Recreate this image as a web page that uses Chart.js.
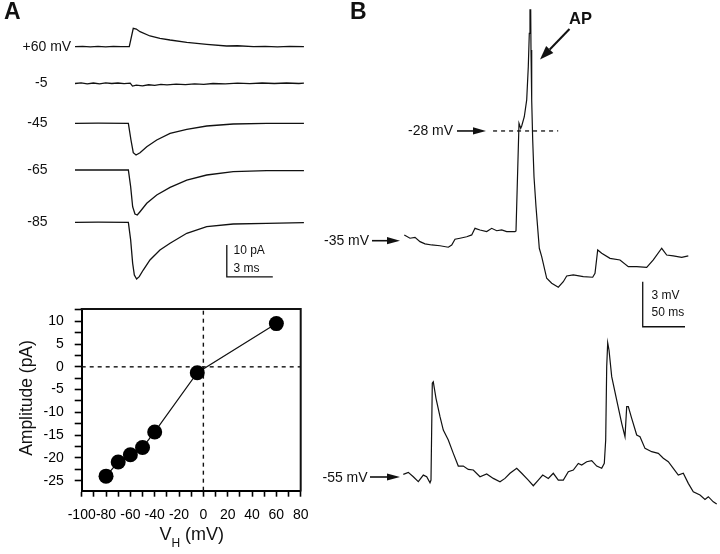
<!DOCTYPE html>
<html>
<head>
<meta charset="utf-8">
<script src="https://cdn.jsdelivr.net/npm/chart.js@4.4.0/dist/chart.umd.min.js"></script>
<style>
html, body { margin: 0; padding: 0; background: #fff; }
#wrap { position: relative; width: 720px; height: 554px; }
#wrap canvas { position: absolute; left: 0; top: 0; }
</style>
</head>
<body>
<div id="wrap">
<canvas id="chartTraces" width="720" height="554"></canvas>
<canvas id="chartIV" width="720" height="554"></canvas>
<canvas id="chartB" width="720" height="554"></canvas>
</div>
<script>
// -- DATA ---------------//
// Panel A: synaptic currents at each holding potential (time in ms, current in pA from baseline)
const traceLabels = ['+60 mV', '-5', '-45', '-65', '-85'];
const traceOffset = [-8.34, -19.84, -32.28, -46.88, -63.22]; // stacking of the traces, pA

const traceT60 = [0, 0.5, 1.0, 1.5, 2.0, 2.5, 3.0, 3.54, 3.80, 4.0, 4.24, 4.89, 5.54, 6.20, 7.29, 8.59, 9.89, 10.6, 11.63, 12.4, 13.2, 14.0, 14.93];
const traceI60 = [0, 0.12, -0.05, 0.1, -0.08, 0.12, 0, 0, 5.75, 5.5, 4.69, 3.34, 2.63, 2.09, 1.38, 0.75, 0.22, 0.3, 0, 0.1, -0.05, 0.1, 0];

const traceT5 = [0, 0.4, 0.8, 1.2, 1.6, 2.0, 2.4, 2.8, 3.2, 3.6, 3.75, 4.0, 4.4, 4.8, 5.2, 5.6, 6.0, 6.6, 7.2, 7.8, 8.4, 9.0, 9.8, 10.6, 11.4, 12.2, 13.0, 13.8, 14.6, 14.93];
const traceI5 = [0, 0.2, -0.1, 0.15, -0.1, 0.2, 0, 0.15, -0.05, 0.1, -0.8, -0.5, -0.75, -0.4, -0.6, -0.3, -0.45, -0.2, -0.35, -0.1, -0.25, 0, -0.15, 0.1, -0.05, 0.15, 0, 0.15, 0, 0.1];

const traceT45 = [0, 1.5, 3.48, 3.65, 3.80, 3.98, 4.24, 4.68, 5.33, 6.20, 7.29, 8.59, 10.32, 12.50, 14.93];
const traceI45 = [0, 0.05, 0, -5.22, -9.19, -9.91, -9.19, -7.31, -5.22, -3.13, -1.88, -0.84, -0.22, 0, 0];

const traceT65 = [0, 1.5, 3.48, 3.63, 3.76, 3.91, 4.06, 4.24, 4.68, 5.33, 6.20, 7.29, 8.59, 10.32, 12.50, 14.93];
const traceI65 = [0, 0, 0, -5.22, -11.47, -13.75, -14.06, -13.03, -10.41, -7.81, -5.41, -3.13, -1.56, -0.53, -0.22, -0.16];

const traceT85 = [0, 1.5, 3.48, 3.63, 3.76, 3.87, 4.02, 4.19, 4.45, 4.89, 5.54, 6.20, 7.29, 8.59, 10.32, 12.50, 14.93];
const traceI85 = [0, 0.05, 0, -5.53, -12.81, -16.47, -17.72, -17.0, -14.91, -11.78, -8.66, -6.56, -3.44, -1.38, -0.53, -0.31, -0.13];

const traceT = [traceT60, traceT5, traceT45, traceT65, traceT85];
const traceI = [traceI60, traceI5, traceI45, traceI65, traceI85];

const scaleBarA = { t0: 9.9, i0: -80.3, dt: 3, di: 10 }; // 3 ms, 10 pA

// Panel A (bottom): I-V relation
const ivV = [-80, -70, -60, -50, -40, -5, 60];
const ivI = [-24.0, -20.9, -19.3, -17.7, -14.3, -1.3, 9.5];

// Panel B: membrane potential recordings (time in ms, mV)
const topT = [5.08, 11.82, 17.73, 23.64, 29.55, 37.47, 47.28, 57.09, 61.11, 65.01, 70.92, 78.84, 84.75, 88.65, 94.56, 102.48, 108.39, 114.3, 120.21, 126.12, 135.93, 137.12, 140.66, 142.67, 143.85, 146.93, 149.76, 151.65, 152.84, 153.66, 154.49, 154.85, 155.67, 156.86, 158.39, 160.76, 164.66, 167.49, 173.4, 179.31, 187.12, 193.03, 197.04, 204.85, 216.67, 227.78, 230.5, 233.69, 238.42, 248.23, 260.05, 269.86, 279.79, 291.61, 299.41, 309.34, 315.25, 323.05, 332.98, 340.78];
const topV = [-34.93, -35.15, -35.09, -35.38, -35.53, -35.6, -35.65, -35.75, -35.6, -35.22, -35.15, -35.05, -34.93, -34.49, -34.6, -34.71, -34.49, -34.65, -34.6, -34.71, -34.71, -34.67, -27.49, -27.82, -27.67, -27.05, -25.93, -23.71, -21.49, -19.93, -19.93, -22.6, -25.93, -28.6, -31.05, -33.05, -35.82, -36.38, -37.82, -38.15, -38.42, -38.05, -37.67, -37.6, -37.71, -37.75, -37.49, -35.93, -36.15, -36.49, -36.6, -37.05, -37.05, -37.09, -36.6, -35.82, -36.27, -36.33, -36.42, -36.33];

const botT = [3.9, 9.81, 15.72, 21.63, 27.54, 31.56, 35.46, 36.64, 38.18, 39.36, 42.55, 47.28, 51.18, 57.09, 63.0, 68.91, 74.82, 80.73, 86.64, 94.56, 102.48, 110.28, 118.2, 124.11, 130.02, 137.94, 143.85, 151.65, 157.57, 163.48, 168.68, 175.3, 181.21, 187.12, 193.03, 198.94, 204.85, 210.76, 214.78, 220.69, 226.6, 232.51, 238.42, 241.49, 243.14, 244.33, 245.51, 247.04, 250.24, 256.15, 262.06, 265.96, 267.97, 269.86, 273.88, 279.79, 283.69, 289.6, 297.52, 305.32, 311.23, 317.14, 323.05, 328.96, 334.87, 340.78, 346.69, 354.61, 360.52, 364.42, 370.33, 374.35];
const botV = [-54.82, -54.69, -54.98, -55.31, -54.87, -54.98, -55.38, -55.2, -48.75, -48.65, -49.75, -50.98, -51.87, -52.53, -53.42, -54.27, -54.27, -54.49, -54.53, -54.98, -54.8, -55.09, -55.31, -55.09, -54.75, -54.42, -54.75, -55.2, -55.58, -55.2, -54.87, -55.09, -54.75, -55.2, -55.2, -54.65, -54.53, -54.09, -54.2, -53.98, -53.91, -54.27, -54.42, -54.09, -52.53, -47.65, -46.05, -46.53, -48.31, -49.87, -51.42, -52.31, -50.31, -50.31, -51.09, -52.2, -52.31, -53.09, -53.31, -53.42, -53.75, -53.98, -54.42, -54.87, -54.75, -55.42, -55.98, -56.2, -56.49, -56.31, -56.65, -56.8];

const thresholdMv = -28;
const thresholdSpan = [110, 187]; // ms
const scaleBarB = { t0: 286.9, v0: -41.05, dt: 50, dv: 3 }; // 50 ms, 3 mV

// -- HELPERS ---------------//
const FONT = '"Liberation Sans", Arial, Helvetica, sans-serif';
const INK = '#111';

function pts(xs, ys, off) {
	return xs.map((x, i) => ({ x: x, y: ys[i] + (off || 0) }));
}

function lineSet(data, extra) {
	return Object.assign({
		data: data,
		showLine: true,
		borderColor: INK,
		borderWidth: 1.2,
		pointRadius: 0,
		tension: 0,
		clip: false,
	}, extra || {});
}

function text(ctx, str, x, y, size, align, bold) {
	ctx.font = (bold ? 'bold ' : '') + size + 'px ' + FONT;
	ctx.fillStyle = INK;
	ctx.textAlign = align || 'left';
	ctx.textBaseline = 'middle';
	ctx.fillText(str, x, y);
}

function arrow(ctx, x1, y1, x2, y2, lw, len, half) {
	const a = Math.atan2(y2 - y1, x2 - x1);
	const bx = x2 - len * Math.cos(a), by = y2 - len * Math.sin(a);
	ctx.save();
	ctx.strokeStyle = INK;
	ctx.fillStyle = INK;
	ctx.lineWidth = lw;
	ctx.beginPath();
	ctx.moveTo(x1, y1);
	ctx.lineTo(bx, by);
	ctx.stroke();
	ctx.beginPath();
	ctx.moveTo(x2, y2);
	ctx.lineTo(bx + half * Math.sin(a), by - half * Math.cos(a));
	ctx.lineTo(bx - half * Math.sin(a), by + half * Math.cos(a));
	ctx.closePath();
	ctx.fill();
	ctx.restore();
}

const common = {
	animation: false,
	responsive: false,
	devicePixelRatio: 1,
	events: [],
	plugins: { legend: { display: false }, tooltip: { enabled: false } },
};

// -- PANEL A: CURRENT TRACES ---------------//
const labelsA = {
	id: 'labelsA',
	afterDraw(chart) {
		const ctx = chart.ctx;
		const y = chart.scales.y;
		text(ctx, 'A', 4, 13, 23, 'left', true);
		traceLabels.forEach((lab, k) => {
			const py = y.getPixelForValue(traceOffset[k]);
			if (k === 0) text(ctx, lab, 22.5, py, 14, 'left');
			else text(ctx, lab, 47.5, py, 14, 'right');
		});
		text(ctx, '10 pA', 233.5, 251, 12, 'left');
		text(ctx, '3 ms', 233.5, 268.5, 12, 'left');
	}
};

new Chart(document.getElementById('chartTraces'), {
	type: 'scatter',
	data: {
		datasets: traceLabels.map((lab, k) => lineSet(pts(traceT[k], traceI[k], traceOffset[k]), { label: lab, borderWidth: 1.3 }))
			.concat([lineSet([
				{ x: scaleBarA.t0, y: scaleBarA.i0 + scaleBarA.di },
				{ x: scaleBarA.t0, y: scaleBarA.i0 },
				{ x: scaleBarA.t0 + scaleBarA.dt, y: scaleBarA.i0 },
			], { label: 'scale', borderWidth: 1.3 })]),
	},
	options: Object.assign({}, common, {
		layout: { padding: { left: 75, right: 415, top: 20, bottom: 254 } },
		scales: {
			x: { type: 'linear', display: false, min: 0, max: 15 },
			y: { type: 'linear', display: false, min: -87.5, max: 0 },
		},
	}),
	plugins: [labelsA],
});

// -- PANEL A: I-V PLOT ---------------//
const frameIV = {
	id: 'frameIV',
	afterDraw(chart) {
		const ctx = chart.ctx;
		const a = chart.chartArea;
		ctx.save();
		ctx.strokeStyle = INK;
		ctx.lineWidth = 2;
		ctx.beginPath();
		ctx.moveTo(a.left - 1, a.top);
		ctx.lineTo(a.right, a.top);
		ctx.lineTo(a.right, a.bottom + 1);
		ctx.stroke();
		ctx.restore();

		ctx.save();
		ctx.translate(27.5, 398);
		ctx.rotate(-Math.PI / 2);
		text(ctx, 'Amplitude (pA)', 0, 0, 17.5, 'center');
		ctx.restore();

		text(ctx, 'V', 159.5, 535, 18, 'left');
		text(ctx, 'H', 171.5, 544, 12, 'left');
		text(ctx, '(mV)', 185, 535, 18, 'left');
	}
};

new Chart(document.getElementById('chartIV'), {
	type: 'scatter',
	data: {
		datasets: [
			{
				label: 'Amplitude',
				data: pts(ivV, ivI),
				showLine: true,
				borderColor: INK,
				borderWidth: 1.2,
				pointRadius: 7.5,
				pointBackgroundColor: '#000',
				pointBorderColor: '#000',
				pointBorderWidth: 0,
				clip: false,
			},
			lineSet([{ x: -100, y: 0 }, { x: 80, y: 0 }], { borderDash: [4, 4], borderWidth: 1.4 }),
			lineSet([{ x: 0, y: -27.2 }, { x: 0, y: 12.7 }], { borderDash: [4, 4], borderWidth: 1.4 }),
		],
	},
	options: Object.assign({}, common, {
		layout: { padding: { left: 21.7, right: 419.3, top: 309, bottom: 23.3 } },
		scales: {
			x: {
				type: 'linear',
				position: 'bottom',
				min: -100,
				max: 80,
				border: { display: true, color: '#000', width: 2 },
				grid: { display: true, drawOnChartArea: false, drawTicks: true, tickLength: 6, tickWidth: 1.6, tickColor: '#000' },
				ticks: {
					stepSize: 10,
					autoSkip: false,
					maxRotation: 0,
					padding: 10,
					color: '#000',
					font: { family: FONT, size: 14 },
					callback: v => (v % 20 === 0 ? String(v) : ''),
				},
				afterFit: s => { s.height = 40; },
			},
			y: {
				type: 'linear',
				position: 'left',
				min: -27.2,
				max: 12.7,
				border: { display: true, color: '#000', width: 2 },
				grid: { display: true, drawOnChartArea: false, drawTicks: true, tickLength: 7, tickWidth: 1.6, tickColor: '#000' },
				ticks: {
					stepSize: 2.5,
					includeBounds: false,
					autoSkip: false,
					padding: 11,
					color: '#000',
					font: { family: FONT, size: 14 },
					callback: v => (v % 5 === 0 ? String(v) : ''),
				},
				afterFit: s => { s.width = 60; },
			},
		},
	}),
	plugins: [frameIV],
});

// -- PANEL B: MEMBRANE POTENTIAL ---------------//
const labelsB = {
	id: 'labelsB',
	afterDraw(chart) {
		const ctx = chart.ctx;
		const yTop = chart.scales.y;
		text(ctx, 'B', 350, 13, 23, 'left', true);
		text(ctx, 'AP', 569, 19, 16.5, 'left', true);
		arrow(ctx, 569.5, 29, 540, 59.5, 2, 14, 5);

		const y28 = yTop.getPixelForValue(thresholdMv);
		text(ctx, '-28 mV', 408, y28, 14, 'left');
		arrow(ctx, 457, y28, 486, y28, 1.6, 13, 3.6);

		text(ctx, '-35 mV', 324, 241, 14, 'left');
		arrow(ctx, 372, 240.7, 400, 240.7, 1.6, 13, 3.6);

		text(ctx, '-55 mV', 322.5, 478, 14, 'left');
		arrow(ctx, 370, 477, 400, 477, 1.6, 13, 3.6);

		text(ctx, '3 mV', 651.5, 295.5, 12, 'left');
		text(ctx, '50 ms', 651.5, 312.5, 12, 'left');
	}
};

new Chart(document.getElementById('chartB'), {
	type: 'scatter',
	data: {
		datasets: [
			lineSet(pts(topT, topV), { label: 'top', yAxisID: 'y' }),
			lineSet(pts(botT, botV), { label: 'bottom', yAxisID: 'y2' }),
			lineSet([{ x: thresholdSpan[0], y: thresholdMv }, { x: thresholdSpan[1], y: thresholdMv }], { yAxisID: 'y', borderDash: [4, 4], borderWidth: 1.3 }),
			lineSet([
				{ x: scaleBarB.t0, y: scaleBarB.v0 + scaleBarB.dv },
				{ x: scaleBarB.t0, y: scaleBarB.v0 },
				{ x: scaleBarB.t0 + scaleBarB.dt, y: scaleBarB.v0 },
			], { yAxisID: 'y', borderWidth: 1.3 }),
		],
	},
	options: Object.assign({}, common, {
		layout: { padding: { left: 400, right: 0, top: 0, bottom: 0 } },
		scales: {
			x: { type: 'linear', display: false, min: 0, max: 378.25 },
			y: { type: 'linear', display: false, min: -56.2, max: -19.27 },
			y2: { type: 'linear', display: false, min: -60.13, max: -23.2 },
		},
	}),
	plugins: [labelsB],
});
</script>
</body>
</html>
